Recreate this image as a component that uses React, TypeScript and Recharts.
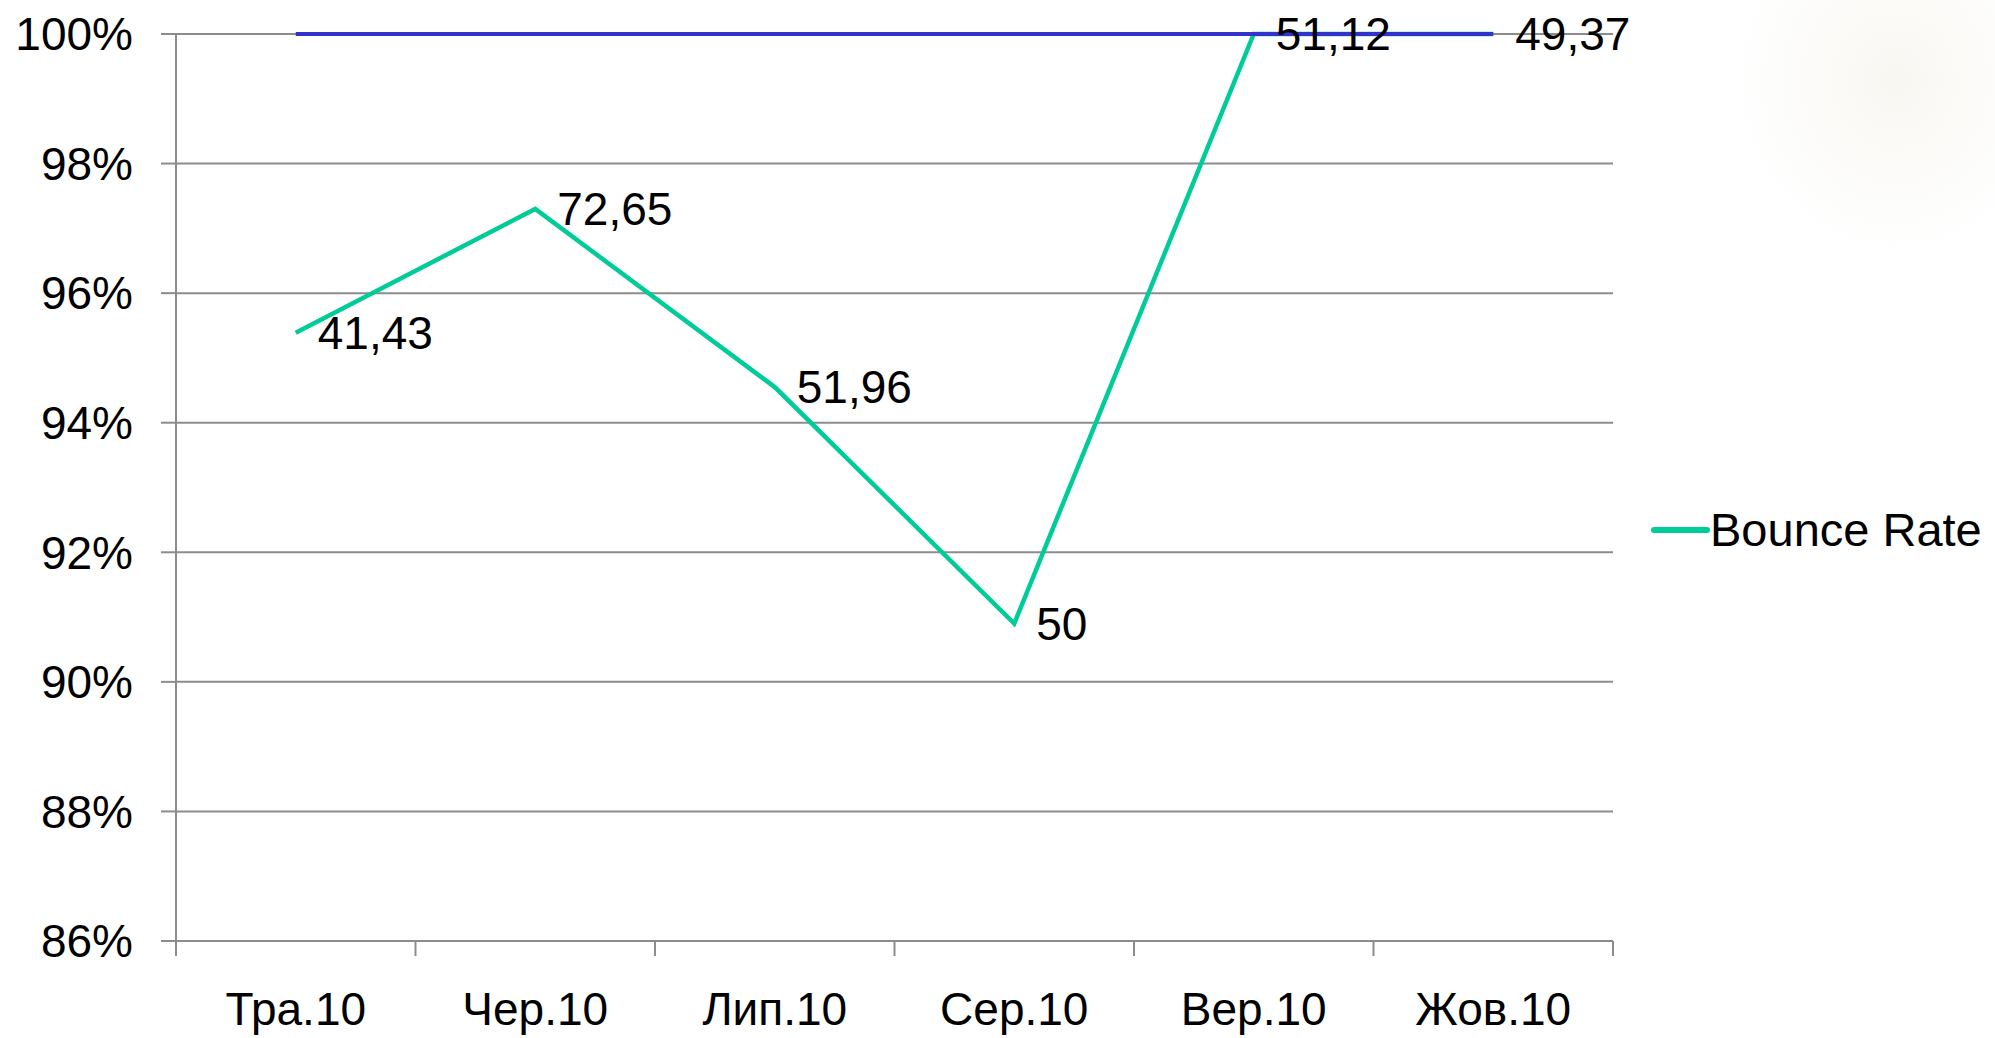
import React from 'react';
import { LineChart, Line, XAxis, YAxis, CartesianGrid, Legend, LabelList } from 'recharts';

const categories = ['Тра.10', 'Чер.10', 'Лип.10', 'Сер.10', 'Вер.10', 'Жов.10'];
const bounceRate = [95.39, 97.3, 94.55, 90.9, 100, 100];
const topLine = [100, 100, 100, 100, 100, 100];
const valueLabels = ['41,43', '72,65', '51,96', '50', '51,12', '49,37'];
const yTicks = [86, 88, 90, 92, 94, 96, 98, 100];

const data = categories.map((c, i) => ({
  month: c,
  bounce: bounceRate[i],
  top: topLine[i],
  label: valueLabels[i],
}));

const W = 1995;
const H = 1038;
const M_TOP = 34;
const M_RIGHT = 382;
const Y_W = 176;
const X_H = 97;
const PLOT_W = W - M_RIGHT - Y_W;
const BAND = PLOT_W / categories.length;
const FONT = '"Liberation Sans", Arial, sans-serif';
const GRID = '#8c8c8c';
const GREEN = '#00cc99';
const BLUE = '#3333cc';
const TICK_SIZE = 15;
const TICK_MARGIN = 36;

const XTick = (props: any) => {
  const { x, y, payload, index } = props;
  const axisY = y - TICK_SIZE - TICK_MARGIN;
  const last = index === categories.length - 1;
  return (
    <g>
      <line x1={x - BAND / 2} x2={x - BAND / 2} y1={axisY} y2={axisY + TICK_SIZE} stroke={GRID} strokeWidth={2} />
      {last && (
        <line x1={x + BAND / 2} x2={x + BAND / 2} y1={axisY} y2={axisY + TICK_SIZE} stroke={GRID} strokeWidth={2} />
      )}
      <text x={x} y={y} dy="0.71em" textAnchor="middle" fontSize={46} fontFamily={FONT} fill="#000">
        {payload.value}
      </text>
    </g>
  );
};

const LegendContent = () => (
  <div style={{ display: 'flex', alignItems: 'center', fontFamily: FONT, fontSize: 47, color: '#000', whiteSpace: 'nowrap' }}>
    <svg width={60} height={10} style={{ display: 'block' }}>
      <line x1={4} x2={57} y1={5} y2={5} stroke={GREEN} strokeWidth={6} strokeLinecap="round" />
    </svg>
    <span style={{ lineHeight: '54px' }}>Bounce Rate</span>
  </div>
);

export default function App() {
  return (
    <div style={{ position: 'absolute', left: 0, top: 0, width: W, height: H, background: '#fff', overflow: 'hidden' }}>
      <div
        style={{
          position: 'absolute',
          left: 1730,
          top: -40,
          width: 300,
          height: 300,
          background:
            'radial-gradient(ellipse at 55% 40%, rgba(236,231,215,0.35) 0%, rgba(242,239,230,0.2) 40%, rgba(255,255,255,0) 70%)',
        }}
      />
      <LineChart
        width={W}
        height={H}
        data={data}
        margin={{ top: M_TOP, right: M_RIGHT, bottom: 0, left: 0 }}
        style={{ position: 'absolute', left: 0, top: 0 }}
      >
        <CartesianGrid horizontal vertical={false} stroke={GRID} strokeWidth={2} />
        <XAxis
          dataKey="month"
          scale="band"
          height={X_H}
          axisLine={{ stroke: GRID, strokeWidth: 2 }}
          tickLine={false}
          tickSize={TICK_SIZE}
          tickMargin={TICK_MARGIN}
          tick={<XTick />}
          interval={0}
        />
        <YAxis
          width={Y_W}
          domain={[86, 100]}
          ticks={yTicks}
          interval={0}
          tickFormatter={(v: number) => `${v}%`}
          axisLine={{ stroke: GRID, strokeWidth: 2 }}
          tickLine={{ stroke: GRID, strokeWidth: 2 }}
          tickSize={15}
          tickMargin={28}
          tick={{ fontSize: 46, fontFamily: FONT, fill: '#000' }}
        />
        <Line
          type="linear"
          dataKey="bounce"
          name="Bounce Rate"
          stroke={GREEN}
          strokeWidth={4.5}
          dot={false}
          activeDot={false}
          isAnimationActive={false}
        >
          <LabelList
            dataKey="label"
            position="right"
            offset={22}
            style={{ fontSize: 46, fontFamily: FONT, fill: '#000' }}
          />
        </Line>
        <Line
          type="linear"
          dataKey="top"
          name="top"
          stroke={BLUE}
          strokeWidth={4}
          dot={false}
          activeDot={false}
          legendType="none"
          isAnimationActive={false}
        />
        <Legend
          layout="vertical"
          align="center"
          verticalAlign="middle"
          content={<LegendContent />}
          wrapperStyle={{ left: 1650, top: 503, width: 345 }}
        />
      </LineChart>
    </div>
  );
}
